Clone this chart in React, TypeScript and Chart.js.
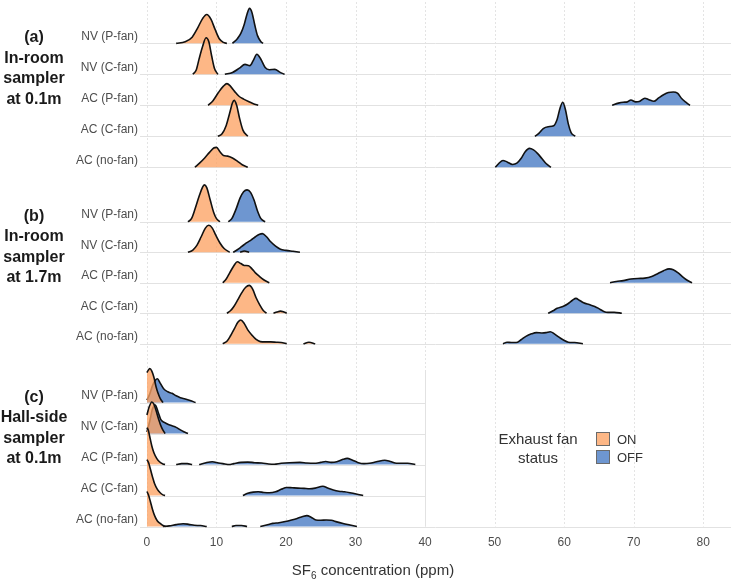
import React, { useEffect, useRef } from "react";
import { Chart, registerables } from "chart.js";

Chart.register(...registerables);

type Pt = [number, number] | null;

// ---------- labels ----------
const panelTitles = [
  ["(a)", "In-room", "sampler", "at 0.1m"],
  ["(b)", "In-room", "sampler", "at 1.7m"],
  ["(c)", "Hall-side", "sampler", "at 0.1m"],
];
const rowLabels = ["NV (P-fan)", "NV (C-fan)", "AC (P-fan)", "AC (C-fan)", "AC (no-fan)"];
const xTicks = [0, 10, 20, 30, 40, 50, 60, 70, 80];
const statusLabels = ["ON", "OFF"];
const legendTitle = ["Exhaust fan", "status"];

// ---------- density ridges: [SF6 ppm, relative density] ----------
// Panel (a) In-room sampler at 0.1m
const aNvP_on: Pt[] = [[4.2,0],[5.5,0.05],[6.5,0.2],[7.3,0.5],[8.0,0.8],[8.6,0.93],[9.2,0.78],[9.8,0.45],[10.4,0.15],[11,0.03],[11.5,0]];
const aNvP_off: Pt[] = [[12.3,0],[13,0.15],[13.5,0.32],[14.0,0.62],[14.4,0.95],[14.75,1.13],[15.1,1.0],[15.5,0.6],[15.9,0.25],[16.4,0.05],[16.7,0]];
const aNvC_on: Pt[] = [[6.6,0],[7.1,0.15],[7.5,0.5],[8.0,0.9],[8.5,1.18],[8.9,1.05],[9.3,0.6],[9.7,0.2],[10.2,0]];
const aNvC_off: Pt[] = [[11.2,0],[12.3,0.06],[13.3,0.2],[14.1,0.32],[14.8,0.28],[15.3,0.45],[15.8,0.65],[16.4,0.48],[17.0,0.22],[17.6,0.15],[18.4,0.16],[19.1,0.07],[19.8,0]];
const aAcP_on: Pt[] = [[8.8,0],[9.5,0.15],[10.3,0.42],[11,0.62],[11.5,0.7],[12.0,0.62],[12.6,0.45],[13.2,0.3],[13.9,0.2],[14.6,0.12],[15.3,0.05],[16,0]];
const aAcP_off: Pt[] = [[66.9,0],[67.8,0.07],[68.5,0.1],[69.1,0.11],[69.6,0.17],[70.3,0.11],[70.8,0.12],[71.6,0.23],[72.2,0.18],[72.9,0.13],[73.6,0.24],[74.3,0.34],[75.0,0.41],[75.7,0.43],[76.3,0.39],[76.9,0.22],[77.5,0.1],[78.1,0]];
const aAcC_on: Pt[] = [[10.2,0],[10.8,0.08],[11.4,0.35],[11.9,0.75],[12.3,1.08],[12.55,1.16],[12.9,1.0],[13.3,0.6],[13.8,0.2],[14.5,0]];
const aAcC_off: Pt[] = [[55.8,0],[56.4,0.1],[57.0,0.25],[57.7,0.31],[58.5,0.34],[59.0,0.55],[59.4,0.9],[59.8,1.1],[60.2,0.85],[60.6,0.4],[61.0,0.12],[61.6,0]];
const aAcN_on: Pt[] = [[6.9,0],[7.6,0.14],[8.3,0.3],[9.0,0.48],[9.6,0.62],[10.0,0.64],[10.5,0.5],[11.0,0.38],[11.6,0.36],[12.3,0.3],[13.0,0.2],[13.7,0.08],[14.5,0]];
const aAcN_off: Pt[] = [[50.1,0],[50.6,0.12],[51.2,0.22],[51.8,0.17],[52.6,0.09],[53.2,0.13],[53.8,0.28],[54.4,0.5],[55.0,0.61],[55.6,0.56],[56.2,0.44],[56.8,0.28],[57.4,0.12],[58.1,0]];

// Panel (b) In-room sampler at 1.7m
const bNvP_on: Pt[] = [[5.9,0],[6.4,0.1],[6.9,0.4],[7.5,0.82],[8.0,1.12],[8.25,1.19],[8.6,1.1],[9.1,0.7],[9.6,0.3],[10.0,0.1],[10.5,0]];
const bNvP_off: Pt[] = [[11.7,0],[12.2,0.1],[12.8,0.4],[13.4,0.77],[13.9,0.97],[14.4,1.03],[14.9,0.95],[15.4,0.7],[15.9,0.35],[16.4,0.1],[17,0]];
const bNvC_on: Pt[] = [[5.9,0],[6.6,0.07],[7.2,0.23],[7.8,0.5],[8.4,0.78],[8.9,0.87],[9.4,0.78],[9.9,0.55],[10.5,0.3],[11.1,0.12],[11.9,0],null,[13.4,0],[14.0,0.04],[14.7,0]];
const bNvC_off: Pt[] = [[12.4,0],[13.0,0.08],[13.6,0.18],[14.3,0.3],[15.0,0.4],[15.6,0.5],[16.2,0.58],[16.6,0.6],[17.2,0.5],[17.8,0.34],[18.5,0.2],[19.2,0.1],[20.0,0.06],[21.0,0.03],[22.0,0]];
const bAcP_on: Pt[] = [[10.9,0],[11.4,0.12],[11.9,0.32],[12.5,0.55],[13.0,0.68],[13.5,0.62],[14.0,0.56],[14.6,0.55],[15.1,0.45],[15.6,0.32],[16.2,0.2],[16.9,0.08],[17.6,0]];
const bAcP_off: Pt[] = [[66.6,0],[67.5,0.04],[68.5,0.07],[69.6,0.12],[70.6,0.14],[71.6,0.15],[72.6,0.2],[73.5,0.3],[74.3,0.39],[75.1,0.45],[75.7,0.42],[76.4,0.32],[77.0,0.2],[77.7,0.08],[78.4,0]];
const bAcC_on: Pt[] = [[11.5,0],[12.0,0.08],[12.5,0.22],[13.1,0.45],[13.6,0.65],[14.2,0.84],[14.7,0.9],[15.2,0.78],[15.7,0.5],[16.2,0.28],[16.7,0.1],[17.2,0],null,[18.2,0],[18.7,0.04],[19.2,0.07],[19.7,0.04],[20.1,0]];
const bAcC_off: Pt[] = [[57.7,0],[58.4,0.08],[59.0,0.16],[59.9,0.23],[60.5,0.3],[61.2,0.42],[61.7,0.48],[62.2,0.42],[62.8,0.34],[63.6,0.28],[64.4,0.22],[65.0,0.15],[65.7,0.06],[66.3,0.03],[67.2,0.03],[68.3,0]];
const bAcN_on: Pt[] = [[10.9,0],[11.5,0.08],[12.0,0.25],[12.6,0.5],[13.1,0.7],[13.5,0.77],[14.0,0.65],[14.5,0.45],[15.1,0.28],[15.7,0.14],[16.3,0.07],[17.0,0.06],[17.8,0.06],[18.6,0.05],[19.3,0.04],[20.1,0],null,[22.5,0],[23.3,0.05],[24.2,0]];
const bAcN_off: Pt[] = [[51.2,0],[51.8,0.05],[52.4,0.04],[53.1,0.04],[53.8,0.13],[54.5,0.24],[55.3,0.32],[56.0,0.36],[56.8,0.35],[57.4,0.36],[58.0,0.39],[58.6,0.32],[59.2,0.22],[59.9,0.12],[60.6,0.05],[61.5,0.04],[62.7,0]];

// Panel (c) Hall-side sampler at 0.1m
const cNvP_on: Pt[] = [[0,0.97],[0.2,1.05],[0.4,1.1],[0.7,1.02],[1.0,0.82],[1.3,0.52],[1.6,0.3],[1.9,0.14],[2.3,0]];
const cNvP_off: Pt[] = [[0,0.08],[0.4,0.28],[0.8,0.55],[1.2,0.72],[1.5,0.77],[1.9,0.63],[2.4,0.45],[3.0,0.35],[3.6,0.3],[4.2,0.22],[4.8,0.16],[5.5,0.12],[6.2,0.07],[7.0,0]];
const cNvC_on: Pt[] = [[0,0.6],[0.3,0.85],[0.7,1.02],[1.0,0.95],[1.3,0.75],[1.7,0.45],[2.1,0.2],[2.6,0]];
const cNvC_off: Pt[] = [[0,0.05],[0.4,0.4],[0.8,0.8],[1.2,0.92],[1.6,0.7],[2.0,0.45],[2.5,0.36],[3.0,0.3],[3.6,0.25],[4.2,0.2],[4.8,0.12],[5.3,0.06],[5.9,0]];
const cAcP_on: Pt[] = [[0,1.19],[0.2,1.1],[0.45,0.85],[0.7,0.6],[1.0,0.38],[1.4,0.2],[1.8,0.09],[2.3,0.02],[2.6,0]];
const cAcP_off: Pt[] = [[4.2,0],[5.0,0.03],[5.8,0.03],[6.5,0],null,[7.5,0],[8.5,0.06],[9.4,0.09],[10.3,0.05],[11.2,0.02],[11.8,0],[12.5,0.03],[13.5,0.07],[14.5,0.08],[15.5,0.06],[16.5,0.05],[17.5,0.02],[18.3,0.01],[19.3,0.04],[20.5,0.06],[22.0,0.07],[23.0,0.05],[24.0,0.04],[25.0,0.07],[25.7,0.1],[26.5,0.07],[27.3,0.09],[28.2,0.17],[28.8,0.2],[29.5,0.15],[30.3,0.07],[31.2,0.03],[32.0,0.04],[33.0,0.09],[34.2,0.14],[35.0,0.1],[35.9,0.04],[36.7,0.04],[37.5,0.04],[38.6,0]];
const cAcC_on: Pt[] = [[0,1.16],[0.25,1.05],[0.5,0.85],[0.8,0.6],[1.1,0.38],[1.5,0.2],[1.9,0.09],[2.3,0.02],[2.6,0]];
const cAcC_off: Pt[] = [[13.8,0],[14.5,0.07],[15.3,0.11],[16.0,0.12],[16.8,0.1],[17.6,0.09],[18.5,0.12],[19.3,0.2],[20.1,0.26],[20.9,0.25],[21.7,0.24],[22.6,0.23],[23.4,0.22],[24.2,0.24],[25.3,0.3],[26.0,0.24],[26.8,0.18],[27.6,0.14],[28.4,0.12],[29.2,0.09],[30.1,0.05],[31.1,0]];
const cAcN_on: Pt[] = [[0,1.13],[0.25,1.0],[0.5,0.8],[0.8,0.55],[1.1,0.35],[1.5,0.18],[1.9,0.1],[2.3,0.03],[2.7,0]];
const cAcN_off: Pt[] = [[2.3,0],[3.2,0.02],[4.2,0.06],[5.2,0.09],[6.0,0.07],[6.8,0.04],[7.7,0.03],[8.6,0],null,[12.2,0],[12.8,0.03],[13.6,0.03],[14.4,0],null,[16.3,0],[17.2,0.05],[18.1,0.1],[19.0,0.12],[19.9,0.16],[20.8,0.21],[21.6,0.26],[22.4,0.32],[23.0,0.35],[23.6,0.3],[24.3,0.21],[25.0,0.2],[25.8,0.21],[26.5,0.2],[27.3,0.15],[28.2,0.1],[29.2,0.05],[30.2,0]];

// rows top -> bottom, each [ON, OFF]
const panelA = [[aNvP_on, aNvP_off], [aNvC_on, aNvC_off], [aAcP_on, aAcP_off], [aAcC_on, aAcC_off], [aAcN_on, aAcN_off]];
const panelB = [[bNvP_on, bNvP_off], [bNvC_on, bNvC_off], [bAcP_on, bAcP_off], [bAcC_on, bAcC_off], [bAcN_on, bAcN_off]];
const panelC = [[cNvP_on, cNvP_off], [cNvC_on, cNvC_off], [cAcP_on, cAcP_off], [cAcC_on, cAcC_off], [cAcN_on, cAcN_off]];
const panels = [panelA, panelB, panelC];

// ---------- layout (row units) ----------
const panelBottom = [11.6, 5.9, 0];
const panelSpacing = [1.0, 0.985, 1.0];
const panelGridMax = [84, 84, 40];

const ON_FILL = "rgba(252,163,100,0.78)";
const OFF_FILL = "rgb(110,150,208)";
const FONT = "'Liberation Sans', Arial, Helvetica, sans-serif";

const baselineOf = (p: number, i: number) => panelBottom[p] + (4 - i) * panelSpacing[p];

function toData(pts: Pt[], base: number) {
  const out: { x: number; y: number | null }[] = [];
  let lastX = 0;
  for (const pt of pts) {
    if (pt === null) {
      out.push({ x: lastX + 0.01, y: null });
    } else {
      lastX = pt[0];
      out.push({ x: pt[0], y: base + pt[1] });
    }
  }
  return out;
}

export default function App() {
  const ref = useRef<HTMLCanvasElement | null>(null);

  useEffect(() => {
    if (!ref.current) return;
    const datasets: any[] = [];
    let k = 0;
    panels.forEach((rows, p) => {
      rows.forEach((pair, i) => {
        const base = baselineOf(p, i);
        // OFF first, ON drawn over it
        [1, 0].forEach((s) => {
          datasets.push({
            label: `${panelTitles[p][0]} ${rowLabels[i]} ${statusLabels[s]}`,
            data: toData(pair[s], base),
            fill: { value: base },
            backgroundColor: s === 0 ? ON_FILL : OFF_FILL,
            borderColor: "#111111",
            borderWidth: 1.6,
            pointRadius: 0,
            cubicInterpolationMode: "monotone",
            spanGaps: false,
            order: 1000 - k,
          });
          k++;
        });
      });
    });

    const decor = {
      id: "ridgeDecor",
      beforeDatasetsDraw(chart: any) {
        const { ctx, scales } = chart;
        const xs = scales.x;
        const ys = scales.y;
        const left = chart.chartArea.left;
        const right = chart.chartArea.right;
        ctx.save();
        // vertical grid
        ctx.strokeStyle = "#e4e4e4";
        ctx.lineWidth = 1;
        ctx.setLineDash([2, 2]);
        const yTop = chart.chartArea.top + 2;
        const yBot = ys.getPixelForValue(0);
        xTicks.forEach((v) => {
          const px = Math.round(xs.getPixelForValue(v)) + 0.5;
          ctx.beginPath();
          ctx.moveTo(px, yTop);
          ctx.lineTo(px, yBot);
          ctx.stroke();
        });
        ctx.setLineDash([]);
        // baselines
        ctx.strokeStyle = "#e2e2e2";
        panels.forEach((rows, p) => {
          rows.forEach((_r, i) => {
            const py = Math.round(ys.getPixelForValue(baselineOf(p, i))) + 0.5;
            const endX = p === 2 && i < 4 ? xs.getPixelForValue(panelGridMax[p]) : right;
            ctx.beginPath();
            ctx.moveTo(left, py);
            ctx.lineTo(endX, py);
            ctx.stroke();
          });
        });
        // panel (c) right edge
        const ex = Math.round(xs.getPixelForValue(panelGridMax[2])) + 0.5;
        ctx.beginPath();
        ctx.moveTo(ex, ys.getPixelForValue(baselineOf(2, 0) + 1.05));
        ctx.lineTo(ex, yBot);
        ctx.stroke();
        ctx.restore();
      },
      afterDraw(chart: any) {
        const { ctx, scales } = chart;
        const ys = scales.y;
        const left = chart.chartArea.left;
        ctx.save();
        // row labels
        ctx.fillStyle = "#4d4d4d";
        ctx.font = `12px ${FONT}`;
        ctx.textAlign = "right";
        ctx.textBaseline = "middle";
        panels.forEach((rows, p) => {
          rows.forEach((_r, i) => {
            const py = ys.getPixelForValue(baselineOf(p, i));
            ctx.fillText(rowLabels[i], left - 2, py - 7);
          });
        });
        // panel titles
        ctx.fillStyle = "#1a1a1a";
        ctx.font = `bold 16px ${FONT}`;
        ctx.textAlign = "center";
        panelTitles.forEach((lines, p) => {
          const y0 = ys.getPixelForValue(baselineOf(p, 0)) - 5.5;
          lines.forEach((t, j) => ctx.fillText(t, 34, y0 + j * 20.6));
        });
        // legend
        ctx.fillStyle = "#333333";
        ctx.font = `15px ${FONT}`;
        ctx.textAlign = "center";
        ctx.fillText(legendTitle[0], 538, 440);
        ctx.fillText(legendTitle[1], 538, 459);
        [ON_FILL, OFF_FILL].forEach((c, j) => {
          const by = 432 + j * 18;
          ctx.fillStyle = "#ffffff";
          ctx.fillRect(596, by, 14, 14);
          ctx.fillStyle = c;
          ctx.fillRect(596, by, 14, 14);
          ctx.strokeStyle = "#6a6a6a";
          ctx.lineWidth = 1;
          ctx.strokeRect(596.5, by + 0.5, 13, 13);
        });
        ctx.fillStyle = "#333333";
        ctx.font = `13px ${FONT}`;
        ctx.textAlign = "left";
        statusLabels.forEach((t, j) => ctx.fillText(t, 617, 440 + j * 18));
        // x title with subscript
        const big = `15px ${FONT}`;
        const small = `10px ${FONT}`;
        const p1 = "SF";
        const p2 = "6";
        const p3 = " concentration (ppm)";
        ctx.font = big;
        const w1 = ctx.measureText(p1).width;
        const w3 = ctx.measureText(p3).width;
        ctx.font = small;
        const w2 = ctx.measureText(p2).width;
        let tx = 373 - (w1 + w2 + w3) / 2;
        const ty = 571;
        ctx.textAlign = "left";
        ctx.font = big;
        ctx.fillText(p1, tx, ty);
        tx += w1;
        ctx.font = small;
        ctx.fillText(p2, tx, ty + 5);
        tx += w2;
        ctx.font = big;
        ctx.fillText(p3, tx, ty);
        ctx.restore();
      },
    };

    const chart = new Chart(ref.current, {
      type: "line",
      data: { datasets },
      options: {
        animation: false,
        responsive: false,
        maintainAspectRatio: false,
        layout: { padding: { left: 140, right: 2, top: 0, bottom: 31 } },
        plugins: { legend: { display: false }, tooltip: { enabled: false } },
        elements: { line: { tension: 0.4 } },
        scales: {
          x: {
            type: "linear",
            min: -1,
            max: 84,
            afterBuildTicks: (s: any) => {
              s.ticks = xTicks.map((v) => ({ value: v }));
            },
            grid: { display: false, drawTicks: false },
            border: { display: false },
            ticks: { color: "#4d4d4d", font: { size: 12, family: FONT }, padding: 6, maxRotation: 0, autoSkip: false },
          },
          y: { type: "linear", min: -0.1, max: 17, display: false },
        },
      },
      plugins: [decor],
    } as any);
    return () => chart.destroy();
  }, []);

  return (
    <div style={{ position: "absolute", left: 0, top: 0, width: 733, height: 587, background: "#fff" }}>
      <canvas ref={ref} width={733} height={587} />
    </div>
  );
}
